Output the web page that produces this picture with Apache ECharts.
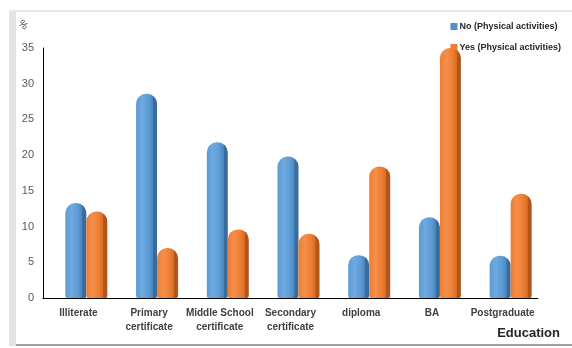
<!DOCTYPE html>
<html><head><meta charset="utf-8">
<script src="https://cdn.jsdelivr.net/npm/echarts@6/dist/echarts.min.js"></script>
<style>html,body{margin:0;padding:0;background:#fff}#c{width:572px;height:348px}</style>
</head><body><div id="c"></div><script>
// Education level categories
const categories = ['Illiterate', 'Primary\ncertificate', 'Middle School\ncertificate', 'Secondary\ncertificate', 'diploma', 'BA', 'Postgraduate'];
// Share (%) of respondents by physical activity
const noActivity = [13.3, 28.6, 21.8, 19.8, 6, 11.3, 5.9];
const yesActivity = [12.1, 7, 9.6, 9, 18.4, 35, 14.6];
// Value axis ticks
const yMin = 0, yMax = 35, yStep = 5;
const seriesNames = ['No (Physical activities)', 'Yes (Physical activities)'];

const chart = echarts.init(document.getElementById('c'), null, { renderer: 'canvas' });

function cylinder(light, mid, dark, edge) {
  return new echarts.graphic.LinearGradient(0, 0, 1, 0, [
    { offset: 0, color: mid },
    { offset: 0.3, color: light },
    { offset: 0.6, color: mid },
    { offset: 0.8, color: dark },
    { offset: 0.82, color: edge },
    { offset: 1, color: edge }
  ]);
}
const blueFill = cylinder('#6fa9df', '#5b9bd5', '#4a85bd', '#3b6b9a');
const orangeFill = cylinder('#f48f4c', '#ed7d31', '#d66d26', '#b0561b');

const font = 'Liberation Sans, Arial, sans-serif';

chart.setOption({
  animation: false,
  backgroundColor: '#fff',
  grid: [
    { left: 43, right: 34, top: 48, bottom: 50 },
    { left: 51, right: 26, top: 48, bottom: 50 }
  ],
  xAxis: [
    {
      type: 'category', gridIndex: 0, data: categories,
      axisLine: { lineStyle: { color: '#000', width: 1 } },
      axisTick: { show: false },
      axisLabel: { color: '#404040', fontSize: 10, fontWeight: 'bold', fontFamily: font, lineHeight: 14, margin: 8, interval: 0 }
    },
    { type: 'category', gridIndex: 1, data: categories, show: false }
  ],
  yAxis: [
    {
      type: 'value', gridIndex: 0, min: yMin, max: yMax, interval: yStep,
      axisLine: { show: true, lineStyle: { color: '#000', width: 1 } },
      axisTick: { show: false },
      splitLine: { show: false },
      axisLabel: { color: '#595959', fontSize: 11, fontFamily: font, margin: 9 }
    },
    { type: 'value', gridIndex: 1, min: yMin, max: yMax, interval: yStep, show: false, splitLine: { show: false } }
  ],
  legend: {
    orient: 'vertical', right: 6, top: 17, itemGap: 12,
    itemWidth: 7, itemHeight: 7, icon: 'rect',
    textStyle: { color: '#262626', fontSize: 9, fontWeight: 'bold', fontFamily: font, padding: [0, 0, 0, -3] },
    data: [
      { name: seriesNames[0], itemStyle: { color: '#4f8fcc' } },
      { name: seriesNames[1], itemStyle: { color: '#ed7d31' } }
    ]
  },
  graphic: [
    { type: 'rect', shape: { x: 9, y: 10, width: 7, height: 336 }, style: { fill: '#e3e3e3' }, silent: true },
    { type: 'rect', shape: { x: 9, y: 10, width: 563, height: 2 }, style: { fill: '#e8e8e8' }, silent: true },
    { type: 'rect', shape: { x: 16, y: 344, width: 556, height: 2 }, style: { fill: '#a0a0a0' }, silent: true },
    { type: 'text', x: 23, y: 25, rotation: -Math.PI / 4, style: { text: '%', fill: '#404040', fontSize: 10, fontFamily: font, align: 'center', verticalAlign: 'middle' } },
    { type: 'text', right: 12, top: 327, style: { text: 'Education', fill: '#262626', fontSize: 13, fontWeight: 'bold', fontFamily: font } }
  ],
  series: [
    {
      name: seriesNames[0], type: 'bar', xAxisIndex: 1, yAxisIndex: 1, data: noActivity,
      barWidth: 21, barGap: '0%', z: 6,
      itemStyle: { color: blueFill, borderRadius: [10, 10, 2, 2] }
    },
    {
      name: seriesNames[1], type: 'bar', xAxisIndex: 1, yAxisIndex: 1, data: yesActivity,
      barWidth: 21, barGap: '0%', z: 6,
      itemStyle: { color: orangeFill, borderRadius: [10, 10, 2, 2] }
    }
  ]
});
</script></body></html>
